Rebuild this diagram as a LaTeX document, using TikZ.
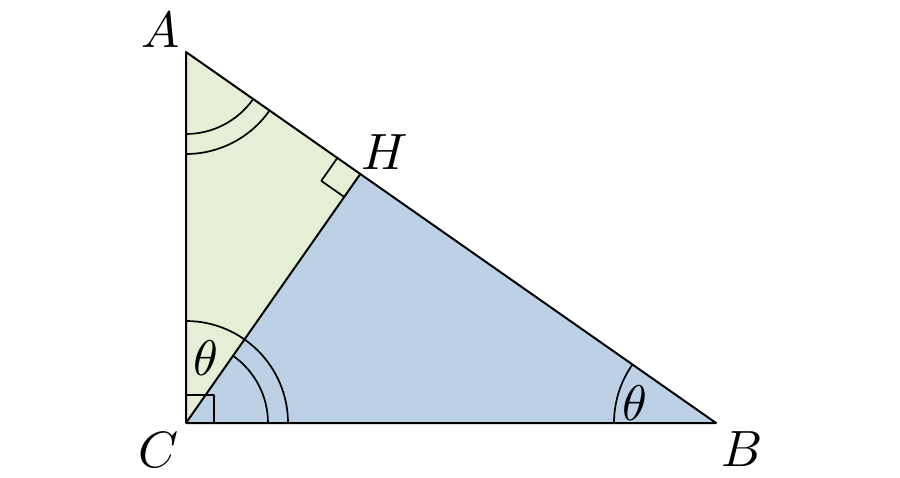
\documentclass[tikz,border=0pt]{standalone}
\usepackage{tikz}
\usetikzlibrary{calc, angles, positioning}

\definecolor{leafgreen}{RGB}{229,239,213}
\definecolor{skyblue}{RGB}{188,209,230}

\begin{document}
\begin{tikzpicture}[x=1pt, y=1pt, line width=2pt, line join=round,
        vlabel/.style={scale=5.1},
        tlabel/.style={scale=5},
        arcmark/.style={draw, line width=1.7pt}]
        \useasboundingbox (0,0) rectangle (900,477);

        \coordinate (C) at (186,54);
        \coordinate (A) at (186,425);
        \coordinate (B) at (716,54);
        \coordinate (H) at ($(A)!(C)!(B)$);

        % the two small triangles
        \fill[leafgreen] (A) -- (H) -- (C) -- cycle;
        \fill[skyblue] (H) -- (B) -- (C) -- cycle;

        % angle marks
        \pic[arcmark, angle radius=82pt] {angle = C--A--B};
        \pic[arcmark, angle radius=102pt] {angle = C--A--B};
        \pic[arcmark, angle radius=82pt] {angle = B--C--H};
        \pic[arcmark, angle radius=102pt] {angle = B--C--A};
        \pic[arcmark, angle radius=102pt] {angle = A--B--C};
        \pic[arcmark, angle radius=28pt] {right angle = B--C--A};
        \pic[arcmark, angle radius=28pt] {right angle = A--H--C};

        \draw (A) -- (B) -- (C) -- cycle;
        \draw (C) -- (H);

        \node[vlabel] (lA) at (161,447) {$A$};
        \node[vlabel] (lH) at (385,325) {$H$};
        \node[vlabel] (lC) at (159,27) {$C$};
        \node[vlabel] (lB) at (742,28) {$B$};
        \node[tlabel] (tC) at (206,119) {$\theta$};
        \node[tlabel] (tB) at (635,74) {$\theta$};
    \end{tikzpicture}
\end{document}
